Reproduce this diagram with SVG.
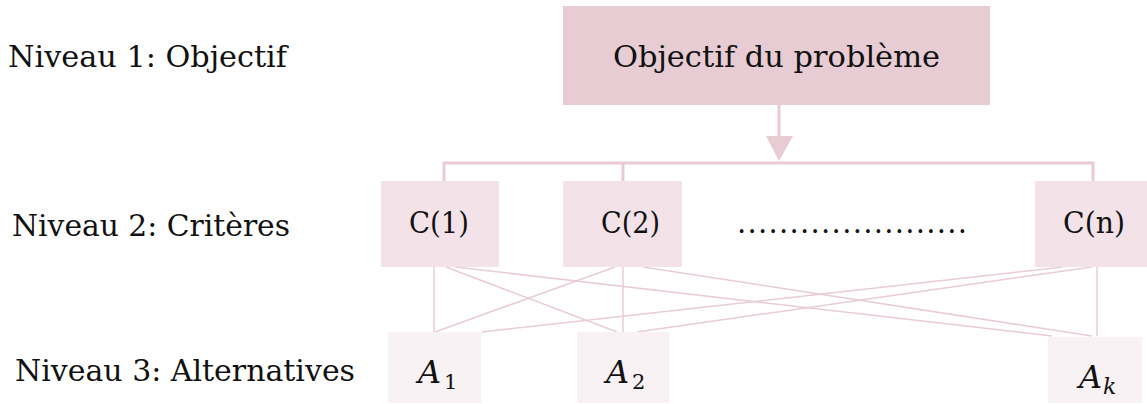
<svg xmlns="http://www.w3.org/2000/svg" width="1147" height="404" viewBox="0 0 1147 404">
<defs>
<style>
.lbl{font-family:"DejaVu Serif","Liberation Serif",serif;font-size:29px;fill:#111}
.math{font-family:"DejaVu Serif","Liberation Serif",serif;font-style:italic;font-size:32px;fill:#111}
.sub{font-family:"DejaVu Serif","Liberation Serif",serif;font-style:normal;font-size:21px;fill:#111}
.subi{font-family:"DejaVu Serif","Liberation Serif",serif;font-style:italic;font-size:22px;fill:#111}
.thick{stroke:#e8cbd3;stroke-width:3;fill:none}
.thin{stroke:#e9ccd4;stroke-width:1.5;fill:none}
.goal{fill:#e8ccd4}
.crit{fill:#f3e3e8}
.alt{fill:#f9f2f4}
</style>
</defs>
<rect width="1147" height="404" fill="#ffffff"/>
<g id="levels">
<text class="lbl" x="8" y="67" textLength="279" lengthAdjust="spacingAndGlyphs">Niveau 1: Objectif</text>
<text class="lbl" x="12" y="236" textLength="278" lengthAdjust="spacingAndGlyphs">Niveau 2: Critères</text>
<text class="lbl" x="15" y="381" textLength="340" lengthAdjust="spacingAndGlyphs">Niveau 3: Alternatives</text>
</g>
<g id="connectors">
<line class="thick" x1="779" y1="105" x2="779" y2="138"/>
<polygon points="766,136 793,136 779,161" fill="#e8cbd3"/>
<polyline class="thick" points="444,181 444,163 1093,163 1093,181"/>
<line class="thick" x1="623" y1="163" x2="623" y2="181"/>
<line class="thin" x1="434" y1="267" x2="434" y2="332"/>
<line class="thin" x1="446" y1="267" x2="617" y2="332"/>
<line class="thin" x1="455" y1="267" x2="1052" y2="336"/>
<line class="thin" x1="615" y1="267" x2="435" y2="332"/>
<line class="thin" x1="623" y1="267" x2="623" y2="332"/>
<line class="thin" x1="643" y1="267" x2="1092" y2="336"/>
<line class="thin" x1="1063" y1="267" x2="482" y2="332"/>
<line class="thin" x1="1092" y1="267" x2="637" y2="332"/>
<line class="thin" x1="1097" y1="267" x2="1097" y2="336"/>
</g>
<g id="goal">
<rect class="goal" x="563" y="6" width="427" height="99"/>
<text class="lbl" x="613" y="67" textLength="327" lengthAdjust="spacingAndGlyphs">Objectif du problème</text>
</g>
<g id="c1">
<rect class="crit" x="381" y="181" width="118" height="86"/>
<text class="lbl" x="409" y="233" textLength="60" lengthAdjust="spacingAndGlyphs">C(1)</text>
</g>
<g id="c2">
<rect class="crit" x="563" y="181" width="119" height="86"/>
<text class="lbl" x="601" y="233" textLength="59" lengthAdjust="spacingAndGlyphs">C(2)</text>
</g>
<g id="dots">
<text class="lbl" x="737" y="233" textLength="230" lengthAdjust="spacing">......................</text>
</g>
<g id="cn">
<rect class="crit" x="1035" y="181" width="112" height="86"/>
<text class="lbl" x="1063" y="233" textLength="62" lengthAdjust="spacingAndGlyphs">C(n)</text>
</g>
<g id="a1">
<rect class="alt" x="388" y="332" width="93" height="71"/>
<text class="math" x="418" y="383">A</text>
<text class="sub" x="444" y="389">1</text>
</g>
<g id="a2">
<rect class="alt" x="577" y="332" width="92" height="71"/>
<text class="math" x="606" y="383">A</text>
<text class="sub" x="632" y="389">2</text>
</g>
<g id="ak">
<rect class="alt" x="1048" y="337" width="94" height="66"/>
<text class="math" x="1079" y="388">A</text>
<text class="subi" x="1103" y="394">k</text>
</g>
</svg>
